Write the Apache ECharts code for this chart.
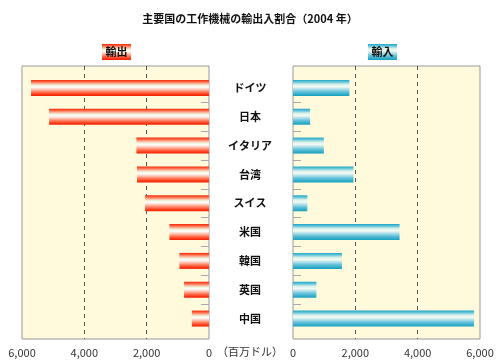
<!DOCTYPE html>
<html><head><meta charset="utf-8">
<script src="https://cdn.jsdelivr.net/npm/echarts@6/dist/echarts.min.js"></script>
<style>html,body{margin:0;padding:0;background:#fff}#c{width:500px;height:363px}</style>
</head><body><div id="c"></div>
<script>
const titleText = '主要国の工作機械の輸出入割合（2004 年）';
const categories = ['ドイツ','日本','イタリア','台湾','スイス','米国','韓国','英国','中国'];
const exportsData = [5710,5130,2330,2310,2050,1270,950,800,550];
const importsData = [1810,550,990,1940,460,3420,1570,750,5810];
const axisMax = 6000;
const axisStep = 2000;
const unitLabel = '（百万ドル）';
const exportLabel = '輸出';
const importLabel = '輸入';

const FONT = '"Noto Sans CJK JP", sans-serif';
const G = echarts.graphic.LinearGradient;
const redGrad = () => new G(0,0,0,1,[
  {offset:0,color:'#f22808'},{offset:0.12,color:'#ff6a48'},{offset:0.24,color:'#ffb8a0'},
  {offset:0.34,color:'#eef4dc'},{offset:0.45,color:'#ffffff'},{offset:0.6,color:'#ffc4b2'},
  {offset:0.76,color:'#ff7656'},{offset:0.9,color:'#ff3a18'},{offset:1,color:'#ee2000'}]);
const cyanGrad = () => new G(0,0,0,1,[
  {offset:0,color:'#1ea6c6'},{offset:0.14,color:'#6cc8dc'},{offset:0.28,color:'#d6f0ea'},
  {offset:0.42,color:'#f6fbf2'},{offset:0.56,color:'#b6e2ec'},{offset:0.76,color:'#5abed6'},
  {offset:1,color:'#16a0c0'}]);
const fmt = v => v.toLocaleString('en-US');
const splitColors = ['rgba(0,0,0,0)','#555','#555','rgba(0,0,0,0)'];
const NONE = 'rgba(0,0,0,0)';
const tickColors = [NONE].concat(categories.slice(1).map(() => '#aaa')).concat([NONE]);

const frame = {show:true, backgroundColor:'#fffadb', borderColor:'#999', borderWidth:1};
const chart = echarts.init(document.getElementById('c'), null, {renderer:'canvas'});
chart.setOption({
  animation:false,
  textStyle:{fontFamily:FONT},
  title:{text:titleText, left:'center', top:8, textStyle:{fontSize:11, fontWeight:'bold', color:'#111', fontFamily:FONT}},
  grid:[
    Object.assign({left:22, right:291, top:66, bottom:24}, frame),
    {left:22, right:291, top:73.5, bottom:30},
    Object.assign({left:293, right:20, top:66, bottom:24}, frame),
    {left:293, right:20, top:73.5, bottom:30},
    {left:201, right:291, top:73.5, bottom:30},
    {left:293, right:199, top:73.5, bottom:30}
  ],
  xAxis:[
    {gridIndex:0, type:'value', min:0, max:axisMax, interval:axisStep, inverse:true,
     axisLine:{show:false}, axisTick:{show:false},
     axisLabel:{formatter:fmt, fontSize:11, color:'#333', margin:8, fontFamily:FONT},
     splitLine:{show:true, lineStyle:{type:[4,4], color:splitColors, width:1}}},
    {gridIndex:1, type:'value', min:0, max:axisMax, inverse:true, show:false},
    {gridIndex:2, type:'value', min:0, max:axisMax, interval:axisStep,
     axisLine:{show:false}, axisTick:{show:false},
     axisLabel:{formatter:fmt, fontSize:11, color:'#333', margin:8, fontFamily:FONT},
     splitLine:{show:true, lineStyle:{type:[4,4], color:splitColors, width:1}}},
    {gridIndex:3, type:'value', min:0, max:axisMax, show:false},
    {gridIndex:4, type:'value', show:false},
    {gridIndex:5, type:'value', show:false}
  ],
  yAxis:[
    {gridIndex:0, type:'value', show:false},
    {gridIndex:1, type:'category', data:categories, inverse:true, position:'right',
     axisLine:{show:false}, axisTick:{show:false},
     axisLabel:{show:true, align:'center', margin:41, fontSize:11, fontWeight:'bold', color:'#111', fontFamily:FONT}},
    {gridIndex:2, type:'value', show:false},
    {gridIndex:3, type:'category', data:categories, inverse:true, position:'left',
     axisLine:{show:false}, axisTick:{show:false}, axisLabel:{show:false}},
    {gridIndex:4, type:'category', data:categories, inverse:true,
     axisLine:{show:false}, axisTick:{show:false}, axisLabel:{show:false},
     splitLine:{show:true, interval:0, lineStyle:{color:tickColors, width:1}}},
    {gridIndex:5, type:'category', data:categories, inverse:true,
     axisLine:{show:false}, axisTick:{show:false}, axisLabel:{show:false},
     splitLine:{show:true, interval:0, lineStyle:{color:tickColors, width:1}}}
  ],
  series:[
    {type:'bar', xAxisIndex:1, yAxisIndex:1, data:exportsData, barWidth:16, itemStyle:{color:redGrad()}},
    {type:'bar', xAxisIndex:3, yAxisIndex:3, data:importsData, barWidth:16, itemStyle:{color:cyanGrad()}}
  ],
  graphic:[
    {type:'group', left:102, top:44, children:[
      {type:'rect', shape:{x:0,y:0,width:29,height:16}, style:{fill:redGrad()}},
      {type:'text', style:{x:14.5, y:8, text:exportLabel, align:'center', verticalAlign:'middle', font:'bold 11px '+FONT, fill:'#111'}}
    ]},
    {type:'group', left:368, top:44, children:[
      {type:'rect', shape:{x:0,y:0,width:29,height:16}, style:{fill:cyanGrad()}},
      {type:'text', style:{x:14.5, y:8, text:importLabel, align:'center', verticalAlign:'middle', font:'bold 11px '+FONT, fill:'#111'}}
    ]},
    {type:'text', left:'center', top:346, style:{text:unitLabel, font:'11px '+FONT, fill:'#333'}}
  ]
});
</script></body></html>
